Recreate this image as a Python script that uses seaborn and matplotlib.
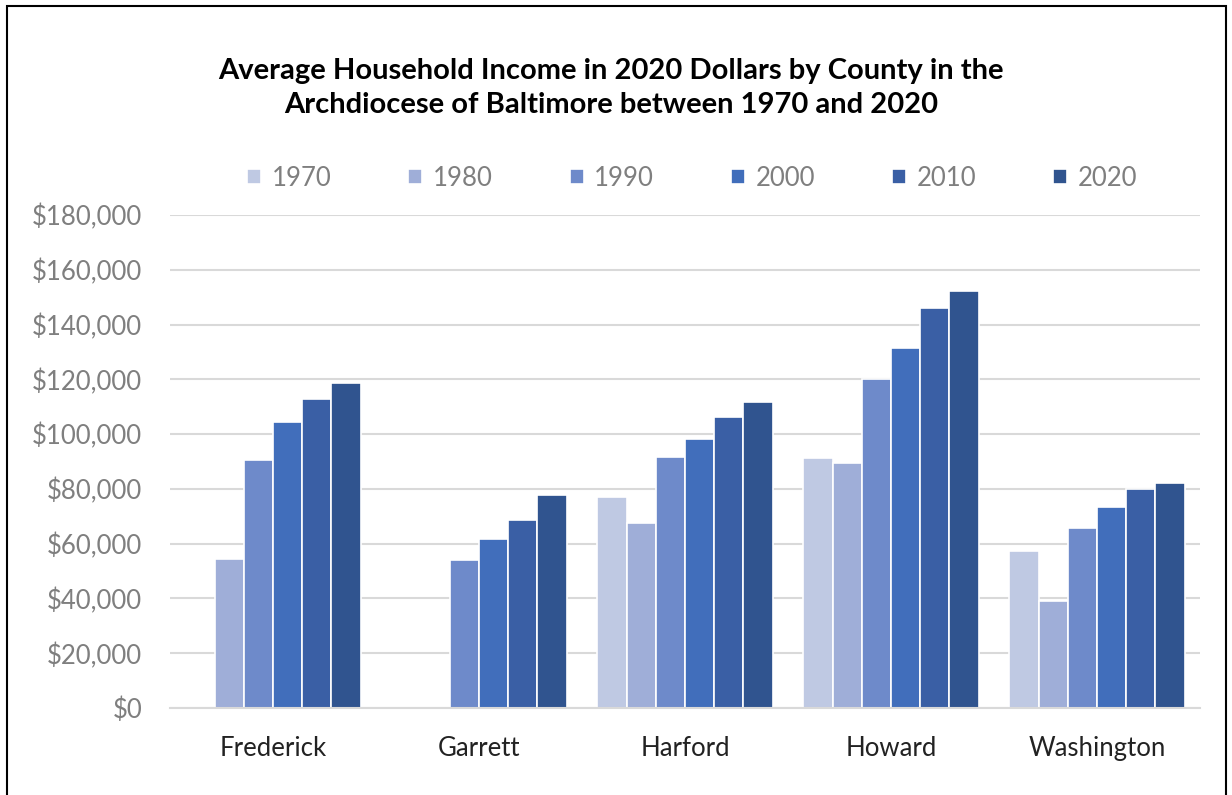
import numpy as np
import pandas as pd
import matplotlib
matplotlib.use("Agg")
import matplotlib.pyplot as plt
import seaborn as sns
from matplotlib.patches import Rectangle
from matplotlib.ticker import FuncFormatter, FixedLocator

counties = ["Frederick", "Garrett", "Harford", "Howard", "Washington"]
years = ["1970", "1980", "1990", "2000", "2010", "2020"]
v1970 = [np.nan, np.nan, 77000, 91100, 57200]
v1980 = [54300, np.nan, 67600, 89300, 38900]
v1990 = [90500, 54200, 91500, 120000, 65700]
v2000 = [104400, 61600, 98100, 131600, 73400]
v2010 = [112800, 68600, 106200, 146000, 79800]
v2020 = [118500, 77600, 111800, 152300, 82100]
colors = ["#BFC9E3", "#9FAED8", "#6E8ACA", "#416EBB", "#3A5FA5", "#30548F"]
title = "Average Household Income in 2020 Dollars by County in the\nArchdiocese of Baltimore between 1970 and 2020"

series = [v1970, v1980, v1990, v2000, v2010, v2020]
rows = []
for y, vals in zip(years, series):
    for c, v in zip(counties, vals):
        rows.append({"County": c, "Year": y, "Income": v})
df = pd.DataFrame(rows)

sns.set_theme(style="white")
plt.rcParams["font.family"] = ["Lato", "DejaVu Sans"]

fig = plt.figure(figsize=(12.32, 7.95), dpi=100)
ax = fig.add_axes([170/1232, 1-708/795, (1200-170)/1232, (708-215)/795])

sns.barplot(data=df, x="County", y="Income", hue="Year", order=counties,
            hue_order=years, palette=colors, width=0.85, edgecolor="white",
            linewidth=1.2, errorbar=None, ax=ax, saturation=1)

ax.set_ylim(0, 180000)
ax.set_xlim(-0.5, 4.5)
ax.yaxis.set_major_locator(FixedLocator(np.arange(0, 180001, 20000)))
ax.yaxis.set_major_formatter(FuncFormatter(lambda v, p: f"${v:,.0f}"))
ax.grid(axis="y", color="#d9d9d9", linewidth=1.5)
ax.set_axisbelow(True)
for s in ["top", "right", "left"]:
    ax.spines[s].set_visible(False)
ax.spines["bottom"].set_color("#d9d9d9")
ax.spines["bottom"].set_linewidth(1.5)
ax.set_xlabel("")
ax.set_ylabel("")
ax.tick_params(axis="y", length=0, labelsize=18.5, labelcolor="#7f7f7f", pad=20)
ax.tick_params(axis="x", which="major", length=0, labelsize=18.5, labelcolor="#222222", pad=20)
ax.set_xticks(np.arange(-0.5, 4.6, 1), minor=True)
ax.tick_params(axis="x", which="minor", length=8, width=1.5, color="#d9d9d9", direction="out")

sns.move_legend(ax, "center", bbox_to_anchor=(692/1232, (795-178)/795), bbox_transform=fig.transFigure,
                ncol=6, frameon=False, title=None, fontsize=18.5, labelcolor="#7f7f7f",
                handlelength=0.55, handleheight=0.55, columnspacing=3.0, handletextpad=0.4)

fig.text(611/1232, 1-88/795, title, ha="center", va="center", fontsize=21,
         fontweight="bold", color="black", linespacing=1.35)

fig.patches.append(Rectangle((7/1232, -0.02), (1226-7)/1232, 1-6/795+0.02,
                             transform=fig.transFigure, fill=False,
                             edgecolor="black", linewidth=1.5))

fig.savefig("out.png", dpi=100)
